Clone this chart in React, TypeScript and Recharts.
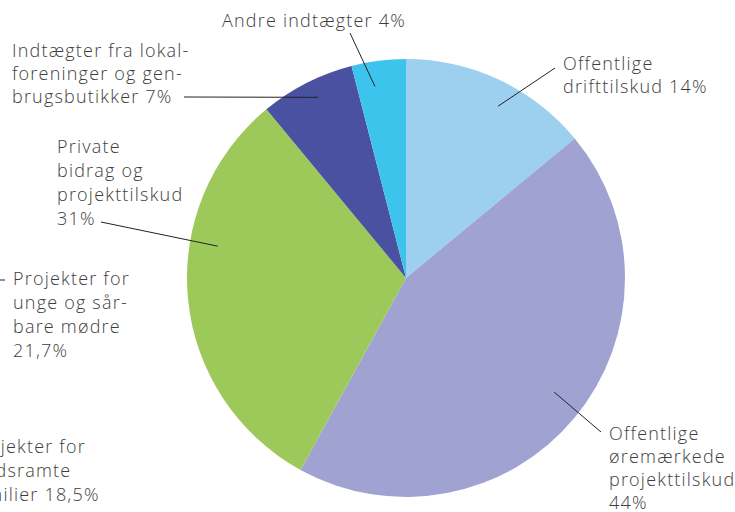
import React from 'react';
import { PieChart, Pie, Cell } from 'recharts';

const names = [
  'Offentlige drifttilskud',
  'Offentlige øremærkede projekttilskud',
  'Private bidrag og projekttilskud',
  'Indtægter fra lokalforeninger og genbrugsbutikker',
  'Andre indtægter',
];
const shares = [14, 44, 31, 7, 4];
const colors = ['#9dcfef', '#a0a3d2', '#9dc95b', '#4a51a1', '#3cc4ec'];
const labelLines = [
  ['Offentlige', 'drifttilskud 14%'],
  ['Offentlige', 'øremærkede', 'projekttilskud', '44%'],
  ['Private', 'bidrag og', 'projekttilskud', '31%'],
  ['Indtægter fra lokal-', 'foreninger og gen-', 'brugsbutikker 7%'],
  ['Andre indtægter 4%'],
];

const data = names.map((name, i) => ({ name, value: shares[i] }));

// label placement relative to pie centre
const layout = [
  { r: 195, da: -3, ex: 149, ey: -210, tx: 157, ty: -208, lh: 23 },
  { r: 187, da: 2, ex: 195, ey: 154, tx: 203, ty: 162, lh: 23 },
  { r: 191, da: -15, ex: -305, ey: -56, tx: -349, ty: -125, lh: 24 },
  { r: 201, da: -1, ex: -222, ey: -181, tx: -394, ty: -221, lh: 23 },
  { r: 194, da: 2, ex: -56, ey: -245, tx: -184, ty: -251, lh: 23 },
];

const FONT = '"Open Sans", sans-serif';
const TEXT = '#3d3d3d';
const SPACING = 1.2;
const RAD = Math.PI / 180;

const renderLabel = (props: any) => {
  const { cx, cy, midAngle, index } = props;
  const l = layout[index];
  const a = (midAngle + l.da) * RAD;
  const sx = cx + l.r * Math.cos(a);
  const sy = cy - l.r * Math.sin(a);
  return (
    <g key={`lbl-${index}`}>
      <line x1={sx} y1={sy} x2={cx + l.ex} y2={cy + l.ey} stroke="#222" strokeWidth={1} />
      <text x={cx + l.tx} y={cy + l.ty} fill={TEXT} fontFamily={FONT} fontSize={18} fontWeight={300} letterSpacing={SPACING}>
        {labelLines[index].map((t, j) => (
          <tspan key={j} x={cx + l.tx} y={cy + l.ty + j * l.lh}>{t}</tspan>
        ))}
      </text>
    </g>
  );
};

// text from the neighbouring chart, cut off at the page edge
const sideA = ['Projekter for', 'unge og sår-', 'bare mødre', '21,7%'];
const sideB = ['Projekter for', 'voldsramte', 'familier 18,5%'];

export default function App() {
  return (
    <div style={{ position: 'absolute', left: 0, top: 0, width: 735, height: 512, background: '#fff' }}>
      <PieChart width={735} height={512} margin={{ top: 0, right: 0, bottom: 0, left: 0 }}>
        <Pie
          data={data}
          dataKey="value"
          nameKey="name"
          cx={406}
          cy={278}
          outerRadius={219}
          startAngle={90}
          endAngle={-270}
          stroke="none"
          label={renderLabel}
          labelLine={false}
          isAnimationActive={false}
        >
          {data.map((d, i) => (
            <Cell key={d.name} fill={colors[i]} />
          ))}
        </Pie>
      </PieChart>
      <svg width={735} height={512} style={{ position: 'absolute', left: 0, top: 0, pointerEvents: 'none' }}>
        <line x1={0} y1={280} x2={5} y2={280} stroke="#222" strokeWidth={1} />
        <text fill={TEXT} fontFamily={FONT} fontSize={18} fontWeight={300} letterSpacing={SPACING}>
          {sideA.map((t, j) => (
            <tspan key={j} x={13} y={285 + j * 24}>{t}</tspan>
          ))}
        </text>
        <text fill={TEXT} fontFamily={FONT} fontSize={18} fontWeight={300} letterSpacing={SPACING}>
          {sideB.map((t, j) => (
            <tspan key={j} x={-31} y={453 + j * 24}>{t}</tspan>
          ))}
        </text>
      </svg>
    </div>
  );
}
